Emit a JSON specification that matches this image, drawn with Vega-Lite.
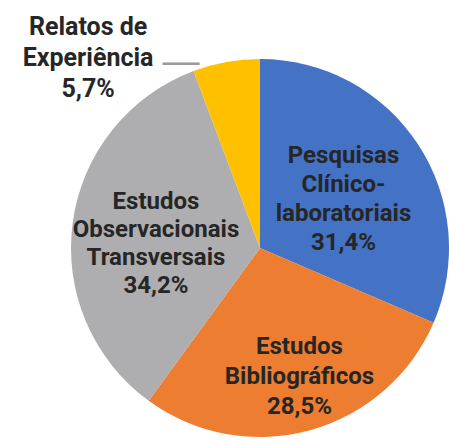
{
  "$schema": "https://vega.github.io/schema/vega-lite/v6.json",
  "width": 378,
  "height": 378,
  "autosize": {"type": "none"},
  "padding": {"left": 71, "top": 59, "right": 0, "bottom": 0},
  "background": "white",
  "view": {"stroke": null},
  "data": {
    "values": [
      {"cat": "Pesquisas Clínico-laboratoriais", "v": 31.4, "ord": 1, "label": "Pesquisas\nClínico-\nlaboratoriais\n31,4%"},
      {"cat": "Estudos Bibliográficos", "v": 28.5, "ord": 2, "label": "Estudos\nBibliográficos\n28,5%"},
      {"cat": "Estudos Observacionais Transversais", "v": 34.2, "ord": 3, "label": "Estudos\nObservacionais\nTransversais\n34,2%"},
      {"cat": "Relatos de Experiência", "v": 5.7, "ord": 4, "label": "Relatos de\nExperiência\n5,7%"}
    ]
  },
  "encoding": {
    "theta": {"field": "v", "type": "quantitative", "stack": true},
    "order": {"field": "ord", "type": "quantitative"}
  },
  "layer": [
    {
      "mark": {"type": "arc", "radius": 189},
      "encoding": {
        "color": {
          "field": "cat", "type": "nominal", "legend": null,
          "scale": {
            "domain": ["Pesquisas Clínico-laboratoriais", "Estudos Bibliográficos", "Estudos Observacionais Transversais", "Relatos de Experiência"],
            "range": ["#4472C4", "#ED7D31", "#AEAEB0", "#FFC000"]
          }
        }
      }
    },
    {
      "mark": {"type": "text", "radius": 100, "dy": -37, "font": "Roboto", "fontWeight": "bold", "fontSize": 24, "lineHeight": 29, "lineBreak": "\n", "color": "#262626", "align": "center", "baseline": "middle"},
      "encoding": {"text": {"condition": {"test": "datum.ord == 1", "field": "label", "type": "nominal"}, "value": ""}}
    },
    {
      "mark": {"type": "text", "radius": 134, "dx": 4, "dy": -30, "font": "Roboto", "fontWeight": "bold", "fontSize": 24, "lineHeight": 30, "lineBreak": "\n", "color": "#262626", "align": "center", "baseline": "middle"},
      "encoding": {"text": {"condition": {"test": "datum.ord == 2", "field": "label", "type": "nominal"}, "value": ""}}
    },
    {
      "mark": {"type": "text", "radius": 105, "dy": -32, "font": "Roboto", "fontWeight": "bold", "fontSize": 24, "lineHeight": 28, "lineBreak": "\n", "color": "#262626", "align": "center", "baseline": "middle"},
      "encoding": {"text": {"condition": {"test": "datum.ord == 3", "field": "label", "type": "nominal"}, "value": ""}}
    },
    {
      "mark": {"type": "text", "radius": 190, "dx": -138, "dy": -34, "font": "Roboto", "fontWeight": "bold", "fontSize": 25, "lineHeight": 31, "lineBreak": "\n", "color": "#262626", "align": "center", "baseline": "middle"},
      "encoding": {"text": {"condition": {"test": "datum.ord == 4", "field": "label", "type": "nominal"}, "value": ""}}
    },
    {
      "mark": {"type": "text", "radius": 190, "dx": -45, "dy": 1, "font": "Liberation Sans", "fontSize": 37, "color": "#9A9A9A", "align": "center", "baseline": "middle"},
      "encoding": {"text": {"condition": {"test": "datum.ord == 4", "value": "—"}, "value": ""}}
    }
  ]
}
